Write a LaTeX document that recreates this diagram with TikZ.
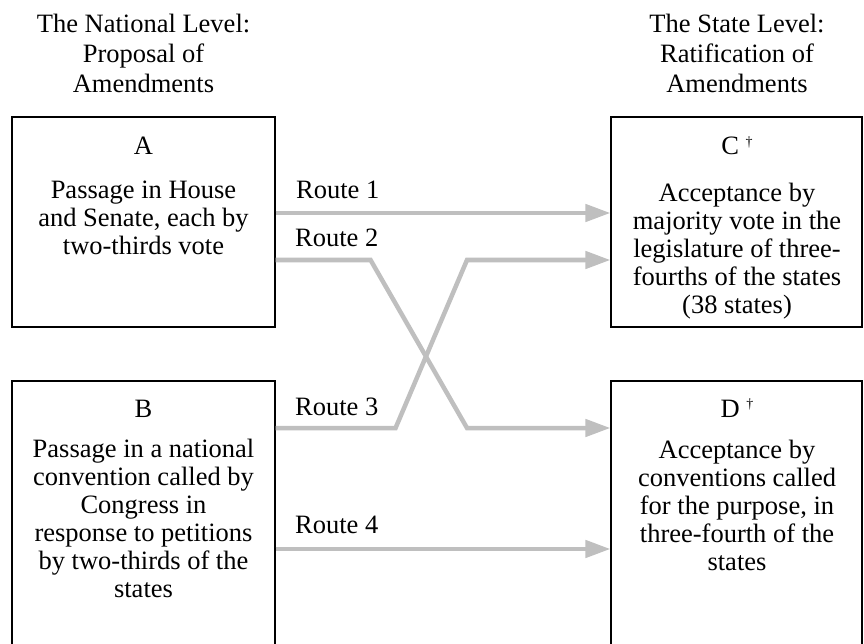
\documentclass[tikz,border=0pt]{standalone}
\usepackage{fontspec}
\setmainfont{Liberation Serif}
\usetikzlibrary{arrows.meta}
\begin{document}
\begin{tikzpicture}[x=1pt,y=-1pt,
  box/.style={draw=black, line width=1.1pt, rectangle, inner sep=0pt},
  head/.style={font=\fontsize{26.5}{30}\selectfont, align=center, inner sep=0pt, anchor=north},
  body/.style={font=\fontsize{26.5}{28}\selectfont, align=center, inner sep=0pt, anchor=north},
  ttl/.style={font=\fontsize{26.5}{28}\selectfont, inner sep=0pt, anchor=base},
  rlab/.style={font=\fontsize{26.5}{28}\selectfont, inner sep=0pt, anchor=base west},
  route/.style={draw=black!25, line width=4.5pt, line join=miter,
    -{Triangle[length=25pt,width=17pt]}}
]
\useasboundingbox (0,0) rectangle (864,644);
\newcommand{\dg}{{\fontsize{14}{14}\selectfont\raisebox{0.6em}{†}}}

% headers
\node[head] (hl) at (143.5,11) {\strut The National Level:\\Proposal of\\Amendments};
\node[head] (hr) at (737,11) {\strut The State Level:\\Ratification of\\Amendments};

% boxes
\node[box, minimum width=263pt, minimum height=210pt] (A) at (143.5,222) {};
\node[box, minimum width=251pt, minimum height=210pt] (C) at (736.5,222) {};
\node[box, minimum width=263pt, minimum height=279pt] (B) at (143.5,520.5) {};
\node[box, minimum width=251pt, minimum height=279pt] (D) at (736.5,520.5) {};

% box texts
\node[ttl] (At) at (143.5,155) {A};
\node[body] (Ab) at (143.5,178.4) {\strut Passage in House\\and Senate, each by\\two-thirds vote};
\node[ttl] (Ct) at (737,155) {C \dg};
\node[body] (Cb) at (737,181.4) {\strut Acceptance by\\majority vote in the\\legislature of three-\\fourths of the states\\(38 states)};
\node[ttl] (Bt) at (143.5,417) {B};
\node[body] (Bb) at (143.5,437.4) {\strut Passage in a national\\convention called by\\Congress in\\response to petitions\\by two-thirds of the\\states};
\node[ttl] (Dt) at (737,417) {D \dg};
\node[body] (Db) at (737,438.4) {\strut Acceptance by\\conventions called\\for the purpose, in\\three-fourth of the\\states};

% route labels
\node[rlab] (r1) at (296,199) {Route 1};
\node[rlab] (r2) at (295,247) {Route 2};
\node[rlab] (r3) at (295,415) {Route 3};
\node[rlab] (r4) at (295,533) {Route 4};

% connectors
\draw[route] ([yshift=9pt]A.east) -- ([yshift=9pt]C.west);
\draw[route] ([yshift=-38pt]A.east) -- ++(95,0) -- (467,428) -- ([yshift=92.5pt]D.west);
\draw[route] ([yshift=92.5pt]B.east) -- ++(120,0) -- (467,260) -- ([yshift=-38pt]C.west);
\draw[route] ([yshift=-28.5pt]B.east) -- ([yshift=-28.5pt]D.west);
\end{tikzpicture}
\end{document}
